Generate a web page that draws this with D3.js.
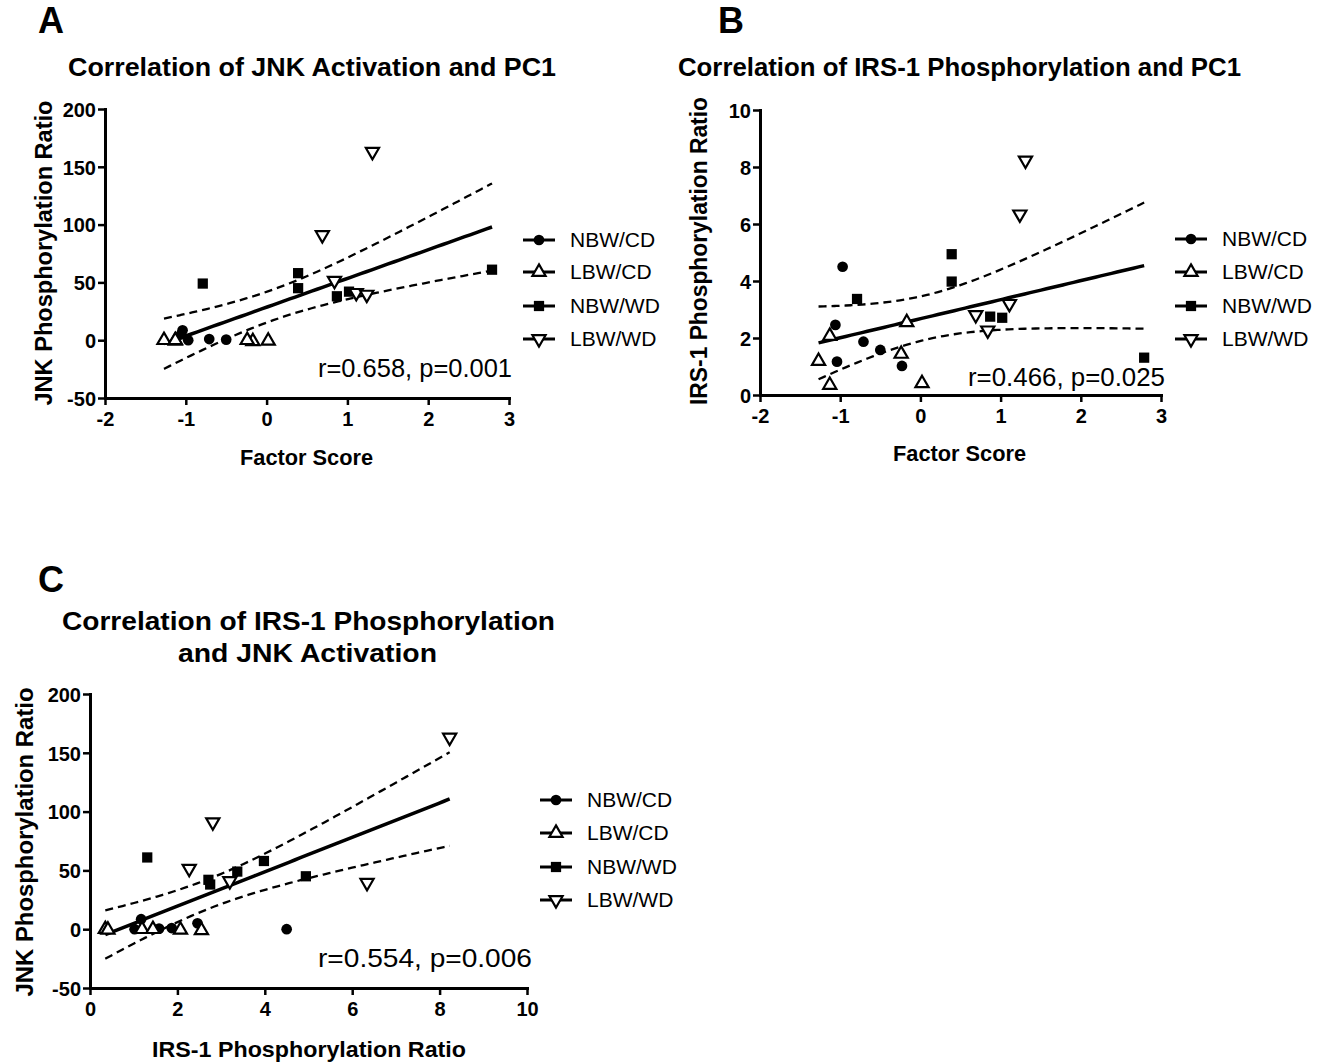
<!DOCTYPE html>
<html>
<head>
<meta charset="utf-8">
<script src="https://cdn.jsdelivr.net/npm/d3@7"></script>
<style>
  body { margin: 0; background: #fff; }
  text { font-family: "Liberation Sans", Arial, sans-serif; fill: #000; }
</style>
</head>
<body>
<svg id="fig" width="1328" height="1063"></svg>
<script>
// Groups, one entry per animal: factor score (PC1), JNK ratio, IRS-1 ratio.
var GROUPS = ['NBW/CD', 'LBW/CD', 'NBW/WD', 'LBW/WD'];
var SYMBOLS = ['circle', 'triUp', 'square', 'triDown'];

var nbwCdFactor = [-0.97, -1.06, -1.04, -0.71, -0.50, -0.23];
var nbwCdJnk    = [0, 5, 8.5, 1, 0.5, 0];
var nbwCdIrs    = [4.50, 2.46, 1.17, 1.87, 1.58, 1.02];

var lbwCdFactor = [-1.27, -1.13, -1.13, -0.17, -0.24, 0.02];
var lbwCdJnk    = [0, -0.5, 0, -1, 0, -0.5];
var lbwCdIrs    = [1.19, 2.07, 0.35, 2.55, 1.44, 0.41];

var nbwWdFactor = [-0.79, 0.39, 0.39, 0.87, 1.02, 2.79];
var nbwWdJnk    = [49, 58, 45, 38, 42, 61];
var nbwWdIrs    = [3.37, 3.98, 4.94, 2.75, 2.71, 1.31];

var lbwWdFactor = [1.31, 0.69, 0.84, 1.11, 1.24];
var lbwWdJnk    = [163, 91, 51.5, 41, 39.5];
var lbwWdIrs    = [8.23, 2.81, 2.27, 3.20, 6.34];

var factorTicks = [-2, -1, 0, 1, 2, 3];
var jnkTicks = [-50, 0, 50, 100, 150, 200];
var irsTicks = [0, 2, 4, 6, 8, 10];

var T_975_DF21 = 2.080; // t critical value, n = 23

var svg = d3.select('#fig');

/**
 * buildPoints
 * ===========
 * Pairs up the x and y arrays of each group.
 */
var buildPoints = function(xs, ys) {
  var pts = [];
  xs.forEach(function(xArr, g) {
    xArr.forEach(function(v, i) {
      pts.push({x: v, y: ys[g][i], group: g});
    });
  });
  return pts;
};

var symbolPath = function(kind) {
  if (kind === 'circle') return d3.symbol(d3.symbolCircle, 90)();
  if (kind === 'square') return d3.symbol(d3.symbolSquare, 105)();
  return d3.symbol(d3.symbolTriangle, 75)();
};

var drawMarker = function(g, kind, x, y) {
  var p = g.append('path')
    .attr('d', symbolPath(kind))
    .attr('transform', 'translate(' + x + ',' + y + ')' + (kind === 'triDown' ? ' rotate(180)' : ''));
  if (kind === 'triUp' || kind === 'triDown') {
    p.attr('fill', '#fff').attr('stroke', '#000').attr('stroke-width', 2.2);
  } else {
    p.attr('fill', '#000');
  }
};

// Text squeezed/stretched to the width it has in the figure.
var fitText = function(g, str, x, y, size, weight, width, anchor) {
  return g.append('text')
    .attr('x', x).attr('y', y)
    .attr('font-size', size)
    .attr('font-weight', weight)
    .attr('text-anchor', anchor || 'start')
    .attr('textLength', width)
    .attr('lengthAdjust', 'spacingAndGlyphs')
    .text(str);
};

/**
 * regression
 * ==========
 * Least squares fit with 95% confidence band for the mean.
 */
var regression = function(pts) {
  var n = pts.length;
  var mx = d3.mean(pts, function(d) { return d.x; });
  var my = d3.mean(pts, function(d) { return d.y; });
  var sxx = d3.sum(pts, function(d) { return (d.x - mx) * (d.x - mx); });
  var sxy = d3.sum(pts, function(d) { return (d.x - mx) * (d.y - my); });
  var b = sxy / sxx;
  var a = my - b * mx;
  var sse = d3.sum(pts, function(d) { var e = d.y - (a + b * d.x); return e * e; });
  var s = Math.sqrt(sse / (n - 2));
  var lo = d3.min(pts, function(d) { return d.x; });
  var hi = d3.max(pts, function(d) { return d.x; });
  var band = [];
  for (var k = 0; k <= 60; k++) {
    var xv = lo + (hi - lo) * k / 60;
    var half = T_975_DF21 * s * Math.sqrt(1 / n + (xv - mx) * (xv - mx) / sxx);
    band.push({x: xv, y: a + b * xv, lo: a + b * xv - half, hi: a + b * xv + half});
  }
  return band;
};

var drawPanel = function(cfg) {
  var g = svg.append('g');
  var x = d3.scaleLinear().domain(cfg.xDomain).range([cfg.left, cfg.right]);
  var y = d3.scaleLinear().domain(cfg.yDomain).range([cfg.bottom, cfg.top]);
  var plain = function(d) { return String(d); };

  var xAxis = g.append('g')
    .attr('transform', 'translate(0,' + cfg.bottom + ')')
    .call(d3.axisBottom(x).tickValues(cfg.xTicks).tickFormat(plain)
      .tickSize(7).tickSizeOuter(0).tickPadding(3));
  var yAxis = g.append('g')
    .attr('transform', 'translate(' + cfg.left + ',0)')
    .call(d3.axisLeft(y).tickValues(cfg.yTicks).tickFormat(plain)
      .tickSize(7).tickSizeOuter(0).tickPadding(2));
  [xAxis, yAxis].forEach(function(ax) {
    ax.select('.domain').attr('stroke-width', 3).attr('stroke-linecap', 'square');
    ax.selectAll('.tick line').attr('stroke-width', 2.5);
    ax.selectAll('.tick text')
      .attr('font-family', '"Liberation Sans", Arial, sans-serif')
      .attr('font-size', 20).attr('font-weight', 'bold').attr('fill', '#000');
  });
  xAxis.selectAll('.tick text').attr('dy', '0.88em');
  yAxis.selectAll('.tick text').attr('dy', '0.36em');

  // Regression line and confidence band
  var band = regression(cfg.points);
  g.append('path').datum(band)
    .attr('fill', 'none').attr('stroke', '#000').attr('stroke-width', 3.5)
    .attr('d', d3.line().x(function(d) { return x(d.x); }).y(function(d) { return y(d.y); }));
  ['lo', 'hi'].forEach(function(key) {
    g.append('path').datum(band)
      .attr('fill', 'none').attr('stroke', '#000').attr('stroke-width', 2.3)
      .attr('stroke-dasharray', '8,5')
      .attr('d', d3.line().curve(d3.curveMonotoneX)
        .x(function(d) { return x(d.x); }).y(function(d) { return y(d[key]); }));
  });

  cfg.points.forEach(function(d) {
    drawMarker(g, SYMBOLS[d.group], x(d.x), y(d.y));
  });

  // Legend
  GROUPS.forEach(function(name, i) {
    var ly = cfg.legendY[i];
    g.append('line')
      .attr('x1', cfg.legendX).attr('x2', cfg.legendX + 32)
      .attr('y1', ly).attr('y2', ly)
      .attr('stroke', '#000').attr('stroke-width', 3);
    drawMarker(g, SYMBOLS[i], cfg.legendX + 16, ly);
    g.append('text')
      .attr('x', cfg.legendX + 47).attr('y', ly + 7)
      .attr('font-size', 21).text(name);
  });

  // Titles and labels
  cfg.title.forEach(function(t) {
    fitText(g, t.text, t.x, t.y, 26, 'bold', t.w);
  });
  g.append('text')
    .attr('x', cfg.letter[0]).attr('y', cfg.letter[1])
    .attr('font-family', '"Liberation Serif", "Times New Roman", serif')
    .attr('font-size', 36).attr('font-weight', 'bold')
    .text(cfg.letter[2]);
  fitText(g, cfg.xLabel.text, cfg.xLabel.x, cfg.xLabel.y, 22, 'bold', cfg.xLabel.w);
  fitText(g, cfg.yLabel.text, 0, 0, 23, 'bold', cfg.yLabel.w, 'middle')
    .attr('transform', 'translate(' + cfg.yLabel.x + ',' + cfg.yLabel.y + ') rotate(-90)');
  fitText(g, cfg.stat.text, cfg.stat.x, cfg.stat.y, 25, 'normal', cfg.stat.w);
};

var factorAll = [nbwCdFactor, lbwCdFactor, nbwWdFactor, lbwWdFactor];
var jnkAll = [nbwCdJnk, lbwCdJnk, nbwWdJnk, lbwWdJnk];
var irsAll = [nbwCdIrs, lbwCdIrs, nbwWdIrs, lbwWdIrs];

drawPanel({
  points: buildPoints(factorAll, jnkAll),
  xDomain: [-2, 3], yDomain: [-50, 200], xTicks: factorTicks, yTicks: jnkTicks,
  left: 105, right: 509, top: 109, bottom: 398,
  legendX: 523, legendY: [240, 272, 306, 339],
  title: [{text: 'Correlation of JNK Activation and PC1', x: 68, y: 76, w: 488}],
  letter: [38, 33, 'A'],
  xLabel: {text: 'Factor Score', x: 240, y: 465, w: 133},
  yLabel: {text: 'JNK Phosphorylation Ratio', x: 52, y: 253, w: 305},
  stat: {text: 'r=0.658, p=0.001', x: 318, y: 377, w: 194}
});

drawPanel({
  points: buildPoints(factorAll, irsAll),
  xDomain: [-2, 3], yDomain: [0, 10], xTicks: factorTicks, yTicks: irsTicks,
  left: 760, right: 1161, top: 110, bottom: 395,
  legendX: 1175, legendY: [239, 272, 306, 339],
  title: [{text: 'Correlation of IRS-1 Phosphorylation and PC1', x: 678, y: 76, w: 563}],
  letter: [718, 33, 'B'],
  xLabel: {text: 'Factor Score', x: 893, y: 461, w: 133},
  yLabel: {text: 'IRS-1 Phosphorylation Ratio', x: 707, y: 251, w: 308},
  stat: {text: 'r=0.466, p=0.025', x: 968, y: 386, w: 197}
});

drawPanel({
  points: buildPoints(irsAll, jnkAll),
  xDomain: [0, 10], yDomain: [-50, 200], xTicks: irsTicks, yTicks: jnkTicks,
  left: 90, right: 527, top: 694, bottom: 988,
  legendX: 540, legendY: [800, 833, 867, 900],
  title: [
    {text: 'Correlation of IRS-1 Phosphorylation', x: 62, y: 630, w: 493},
    {text: 'and JNK Activation', x: 178, y: 662, w: 259}
  ],
  letter: [38, 592, 'C'],
  xLabel: {text: 'IRS-1 Phosphorylation Ratio', x: 152, y: 1057, w: 314},
  yLabel: {text: 'JNK Phosphorylation Ratio', x: 33, y: 842, w: 309},
  stat: {text: 'r=0.554, p=0.006', x: 318, y: 967, w: 214}
});
</script>
</body>
</html>
